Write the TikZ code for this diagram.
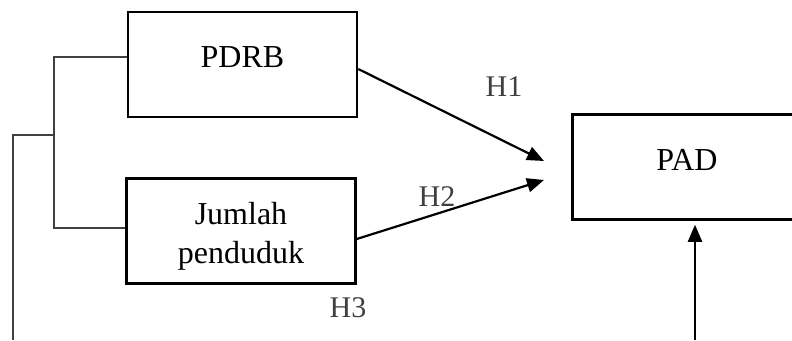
\documentclass[tikz,border=0pt]{standalone}
\usepackage{fontspec}
\setmainfont{Liberation Serif}
\usetikzlibrary{arrows.meta}
\definecolor{lbl}{HTML}{404040}
\begin{document}
\begin{tikzpicture}[x=1pt,y=-1pt,
  box/.style={draw=black,line width=2.5pt,rectangle,inner sep=0pt,
    minimum width=229pt,minimum height=105pt,font=\fontsize{32}{39}\selectfont},
  hlabel/.style={text=lbl,inner sep=0pt,font=\fontsize{30}{36}\selectfont},
  conn/.style={line width=2.2pt,-{Triangle[length=17pt,width=14pt]}},
  bracket/.style={draw=lbl,line width=1.3pt}]
\useasboundingbox (0,0) rectangle (792,340);
\begin{scope}
\clip (0,0) rectangle (792,340);
\node[box,text height=21pt,text depth=16pt] (pdrb) at (242.5,64.5) {PDRB};
\node[box,align=center] (jml) at (241,231) {\rule{0pt}{33pt}Jumlah\\penduduk};
\node[box,text height=21pt,text depth=15pt] (pad) at (687,167) {PAD};
\end{scope}
\coordinate (t1) at (544,161);
\coordinate (t2) at (544,180);
\coordinate (vb) at (695,340);
\coordinate (bt) at (54,57);
\coordinate (bb) at (54,228);
\coordinate (bm) at (54,135);
\coordinate (lm) at (13,135);
\coordinate (lb) at (13,340);
\draw[conn] ([yshift=-4.5pt]pdrb.east) -- (t1);
\draw[conn] ([yshift=-8pt]jml.east) -- (t2);
\draw[conn,shorten >=4pt] (vb) -- (vb |- pad.south);
\draw[bracket] (pdrb.west |- bt) -- (bt) -- (bb) -- (jml.west |- bb);
\draw[bracket] (bm) -- (lm) -- (lb);
\node[hlabel] (h1) at (504,87) {H1};
\node[hlabel] (h2) at (437,197) {H2};
\node[hlabel] (h3) at (348,308) {H3};
\end{tikzpicture}
\end{document}
